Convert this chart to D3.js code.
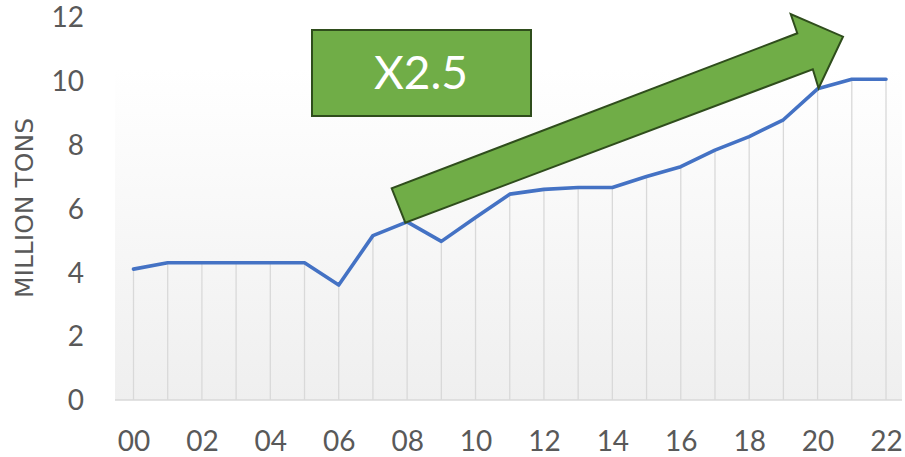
<!DOCTYPE html>
<html><head><meta charset="utf-8">
<script src="https://cdn.jsdelivr.net/npm/d3@7"></script>
<style>
html,body{margin:0;padding:0;background:#fff;}
svg{display:block;font-family:Lato,"Open Sans",sans-serif;}
text.ytitle{font-family:"DejaVu Sans",sans-serif;}
</style></head>
<body>
<svg id="c" width="905" height="457"></svg>
<script>
const years = [0,1,2,3,4,5,6,7,8,9,10,11,12,13,14,15,16,17,18,19,20,21,22];
const values = [4.1,4.3,4.3,4.3,4.3,4.3,3.6,5.15,5.58,4.97,5.72,6.45,6.6,6.66,6.66,7.0,7.31,7.83,8.25,8.78,9.75,10.05,10.05];
const xTicks = [0,2,4,6,8,10,12,14,16,18,20,22];
const xTickLabels = ["00","02","04","06","08","10","12","14","16","18","20","22"];
const yTicks = [0,2,4,6,8,10,12];
const yTitle = "MILLION TONS";
const badge = "X2.5";

const svg = d3.select("#c");
const x = d3.scaleLinear().domain([0,22]).range([133.5,886]);
const y = d3.scaleLinear().domain([0,12]).range([400,17]);

const defs = svg.append("defs");
const g = defs.append("linearGradient").attr("id","bg").attr("x1",0).attr("y1",0).attr("x2",0).attr("y2",1);
g.append("stop").attr("offset","0%").attr("stop-color","#ffffff");
g.append("stop").attr("offset","100%").attr("stop-color","#efefef");

// plot area background
svg.append("rect").attr("x",115).attr("y",y(10.4)).attr("width",902-115).attr("height",y(0)-y(10.4)).attr("fill","url(#bg)");

// drop lines
svg.append("g").selectAll("line").data(years).join("line")
  .attr("x1",(d)=>x(d)).attr("x2",(d)=>x(d))
  .attr("y1",(d,i)=>y(values[i])).attr("y2",y(0))
  .attr("stroke","#d9d9d9").attr("stroke-width",1.3);

// x axis line
svg.append("line").attr("x1",115).attr("x2",902).attr("y1",y(0)).attr("y2",y(0))
  .attr("stroke","#d9d9d9").attr("stroke-width",1.3);

// x axis
const xAxis = d3.axisBottom(x).tickValues(xTicks).tickSize(0).tickPadding(0)
  .tickFormat((d,i)=>xTickLabels[i]);
const xa = svg.append("g").attr("transform",`translate(0,${y(0)})`).call(xAxis);
xa.select(".domain").remove();
xa.selectAll("text").attr("dy","0.35em").attr("y",41).attr("font-size",28).attr("fill","#595959").attr("font-family","Lato");

// y axis
const yAxis = d3.axisLeft(y).tickValues(yTicks).tickSize(0).tickPadding(0);
const ya = svg.append("g").attr("transform","translate(84,0)").call(yAxis);
ya.select(".domain").remove();
ya.selectAll("text").attr("dy","0.35em").attr("font-size",28).attr("fill","#595959").attr("font-family","Lato");

// y title
svg.append("text").attr("class","ytitle").attr("transform","translate(33,208) rotate(-90)")
  .attr("text-anchor","middle").attr("font-size",25).attr("fill","#595959")
  .text(yTitle);

// line
svg.append("path").datum(years)
  .attr("fill","none").attr("stroke","#4472C4").attr("stroke-width",3.6)
  .attr("stroke-linejoin","round").attr("stroke-linecap","round")
  .attr("d",d3.line().x((d)=>x(d)).y((d,i)=>y(values[i])));

// arrow annotation
const arrowPts = [[405.3,222.7],[391.7,188.3],[797.3,33.3],[790.7,14],[843,36.7],[818.6,88.3],[812.8,69.3]];
svg.append("polygon").attr("points",arrowPts.map(p=>p.join(",")).join(" "))
  .attr("fill","#70AD47").attr("stroke","#2f4d1c").attr("stroke-width",2).attr("stroke-linejoin","miter");

// badge
svg.append("rect").attr("x",312).attr("y",30).attr("width",219).attr("height",86)
  .attr("fill","#70AD47").attr("stroke","#2f4d1c").attr("stroke-width",2);
svg.append("text").attr("x",421).attr("y",89).attr("text-anchor","middle")
  .attr("font-size",46).attr("fill","#ffffff").text(badge);
</script>
</body></html>
